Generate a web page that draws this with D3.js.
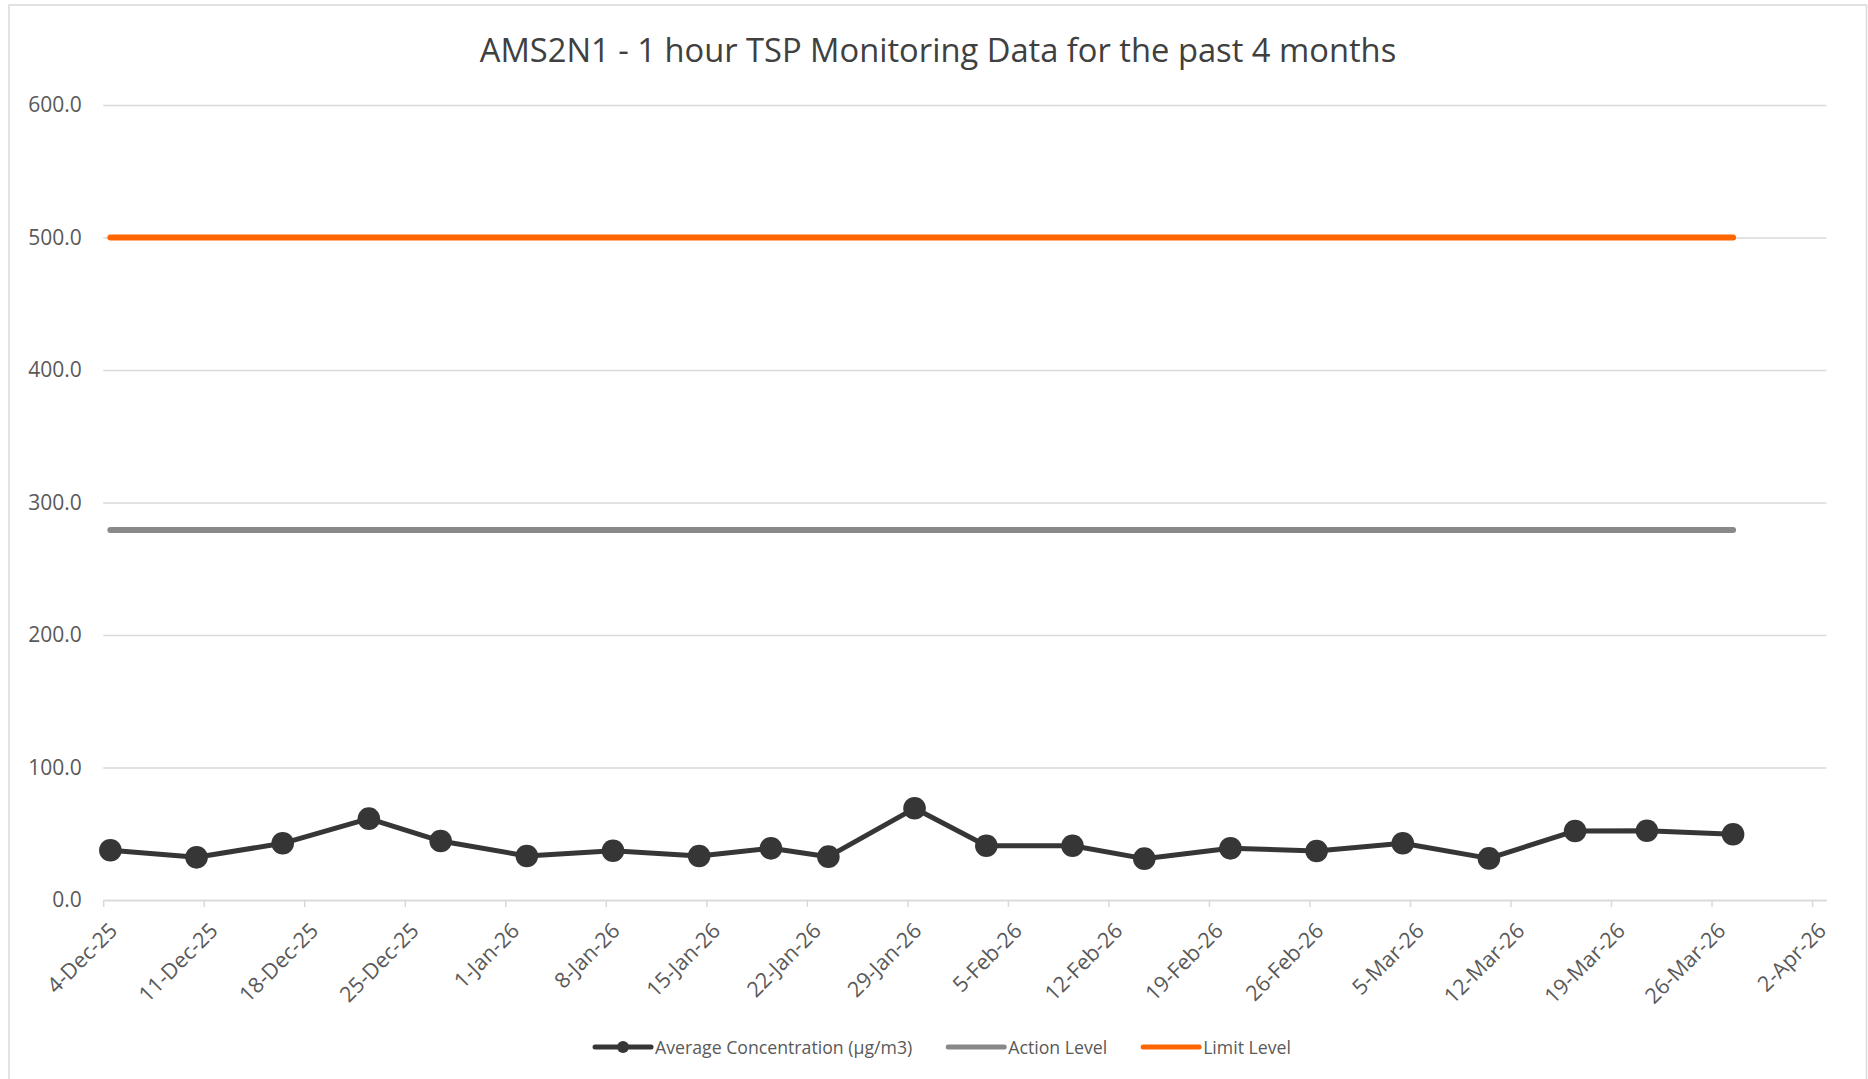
<!DOCTYPE html>
<html>
<head>
<meta charset="utf-8">
<script src="https://cdn.jsdelivr.net/npm/d3@7"></script>
<style>
  html, body { margin: 0; padding: 0; background: #ffffff; }
  svg { display: block; font-family: "Open Sans", "Noto Sans", sans-serif; }
</style>
</head>
<body>
<svg id="chart" width="1868" height="1079"></svg>
<script>
// Sampling dates of the 1-hour TSP measurements
const sampleDates = [
  "2025-12-04", "2025-12-10", "2025-12-16", "2025-12-22", "2025-12-27",
  "2026-01-02", "2026-01-08", "2026-01-14", "2026-01-19", "2026-01-23",
  "2026-01-29", "2026-02-03", "2026-02-09", "2026-02-14", "2026-02-20",
  "2026-02-26", "2026-03-04", "2026-03-10", "2026-03-16", "2026-03-21",
  "2026-03-27"
];

// Average concentration (µg/m3)
const avgConcentration = [
  37.5, 32.2, 42.8, 61.4, 44.5,
  33.2, 37.2, 33.2, 39.0, 32.7,
  69.2, 41.0, 41.0, 31.2, 39.0,
  37.0, 42.8, 31.4, 52.1, 52.3,
  49.6
];

// Action level (µg/m3)
const actionLevel = [
  279.2, 279.2, 279.2, 279.2, 279.2,
  279.2, 279.2, 279.2, 279.2, 279.2,
  279.2, 279.2, 279.2, 279.2, 279.2,
  279.2, 279.2, 279.2, 279.2, 279.2,
  279.2
];

// Limit level (µg/m3)
const limitLevel = [
  500, 500, 500, 500, 500,
  500, 500, 500, 500, 500,
  500, 500, 500, 500, 500,
  500, 500, 500, 500, 500,
  500
];

// Weekly date ticks on the horizontal axis
const xTickDates = [
  "2025-12-04", "2025-12-11", "2025-12-18", "2025-12-25", "2026-01-01",
  "2026-01-08", "2026-01-15", "2026-01-22", "2026-01-29", "2026-02-05",
  "2026-02-12", "2026-02-19", "2026-02-26", "2026-03-05", "2026-03-12",
  "2026-03-19", "2026-03-26", "2026-04-02"
];
const xTickLabels = [
  "4-Dec-25", "11-Dec-25", "18-Dec-25", "25-Dec-25", "1-Jan-26",
  "8-Jan-26", "15-Jan-26", "22-Jan-26", "29-Jan-26", "5-Feb-26",
  "12-Feb-26", "19-Feb-26", "26-Feb-26", "5-Mar-26", "12-Mar-26",
  "19-Mar-26", "26-Mar-26", "2-Apr-26"
];

// Value axis ticks
const yTicks = [0, 100, 200, 300, 400, 500, 600];

const chartTitle = "AMS2N1 - 1 hour TSP Monitoring Data for the past 4 months";
const seriesNames = ["Average Concentration (µg/m3)", "Action Level", "Limit Level"];

const parseDate = d3.utcParse("%Y-%m-%d");

const svg = d3.select("#chart");

const x = d3.scaleUtc()
  .domain([parseDate("2025-12-04"), parseDate("2026-04-03")])
  .range([103.2, 1826.4]);
const y = d3.scaleLinear()
  .domain([0, 600])
  .range([900, 105]);

const plotLeft = x.range()[0], plotRight = x.range()[1];
// Each date owns a one-day slot; points sit in the middle of their slot
const halfDay = (x(d3.utcDay.offset(x.domain()[0], 1)) - x(x.domain()[0])) / 2;

const gridColor = "#d9d9d9";
const textColor = "#595959";

// Outer chart frame
svg.append("rect")
  .attr("x", 9).attr("y", 5)
  .attr("width", 1857.5).attr("height", 1090)
  .attr("fill", "#ffffff")
  .attr("stroke", gridColor)
  .attr("stroke-width", 1.5);

// Title
svg.append("text")
  .attr("x", 938).attr("y", 62)
  .attr("text-anchor", "middle")
  .attr("font-size", 32.7)
  .attr("fill", "#404040")
  .text(chartTitle);

// Value axis with horizontal gridlines
const yAxis = svg.append("g")
  .attr("transform", `translate(${plotLeft},0)`)
  .call(d3.axisLeft(y)
    .tickValues(yTicks)
    .tickSize(-(plotRight - plotLeft))
    .tickPadding(21.5)
    .tickFormat(d3.format(".1f")));
yAxis.select(".domain").remove();
yAxis.selectAll(".tick line")
  .attr("stroke", gridColor)
  .attr("stroke-width", 1.5);
yAxis.selectAll(".tick text")
  .attr("font-size", 21)
  .attr("font-family", "Open Sans")
  .attr("fill", textColor);

// Date axis
const xAxis = svg.append("g")
  .attr("transform", `translate(0,${y(0)})`)
  .call(d3.axisBottom(x)
    .tickValues(xTickDates.map(parseDate))
    .tickSize(7)
    .tickSizeOuter(0)
    .tickFormat((d, i) => xTickLabels[i]));
xAxis.select(".domain")
  .attr("stroke", gridColor)
  .attr("stroke-width", 1.5);
xAxis.selectAll(".tick line")
  .attr("stroke", gridColor)
  .attr("stroke-width", 1.5);
xAxis.selectAll(".tick text")
  .attr("x", 0).attr("y", 0).attr("dy", 0)
  .attr("text-anchor", "end")
  .attr("transform", "translate(15,32) rotate(-45)")
  .attr("font-size", 21.5)
  .attr("font-family", "Open Sans")
  .attr("fill", textColor);

// Series data
const rows = sampleDates.map((s, i) => ({
  date: parseDate(s),
  avg: avgConcentration[i],
  action: actionLevel[i],
  limit: limitLevel[i]
}));

const lineFor = key => d3.line()
  .x(d => x(d.date) + halfDay)
  .y(d => y(d[key]));

const series = [
  { key: "limit", color: "#ff6600", width: 6, marker: false },
  { key: "action", color: "#898989", width: 6, marker: false },
  { key: "avg", color: "#363636", width: 5, marker: true }
];

series.forEach(s => {
  svg.append("path")
    .datum(rows)
    .attr("fill", "none")
    .attr("stroke", s.color)
    .attr("stroke-width", s.width)
    .attr("stroke-linecap", "round")
    .attr("stroke-linejoin", "round")
    .attr("d", lineFor(s.key));
  if (s.marker) {
    svg.append("g").selectAll("circle")
      .data(rows)
      .join("circle")
      .attr("cx", d => x(d.date) + halfDay)
      .attr("cy", d => y(d[s.key]))
      .attr("r", 11.3)
      .attr("fill", s.color);
  }
});

// Legend
const legendItems = [
  { name: seriesNames[0], color: "#363636", marker: true },
  { name: seriesNames[1], color: "#898989", marker: false },
  { name: seriesNames[2], color: "#ff6600", marker: false }
];
const legendY = 1047;
const swatchLen = 56, swatchGap = 4, itemGap = 36;
const legend = svg.append("g");
const groups = legendItems.map(item => {
  const g = legend.append("g");
  g.append("line")
    .attr("x1", 0).attr("x2", swatchLen)
    .attr("y1", legendY).attr("y2", legendY)
    .attr("stroke", item.color)
    .attr("stroke-width", 5)
    .attr("stroke-linecap", "round");
  if (item.marker) {
    g.append("circle")
      .attr("cx", swatchLen / 2).attr("cy", legendY)
      .attr("r", 6).attr("fill", item.color);
  }
  const t = g.append("text")
    .attr("x", swatchLen + swatchGap)
    .attr("y", legendY + 7)
    .attr("font-size", 17.7)
    .attr("fill", textColor)
    .text(item.name);
  return { g, w: swatchLen + swatchGap + t.node().getComputedTextLength() };
});
const totalW = d3.sum(groups, d => d.w) + itemGap * (groups.length - 1);
let cursor = 943 - totalW / 2;
groups.forEach(d => {
  d.g.attr("transform", `translate(${cursor},0)`);
  cursor += d.w + itemGap;
});
</script>
</body>
</html>
